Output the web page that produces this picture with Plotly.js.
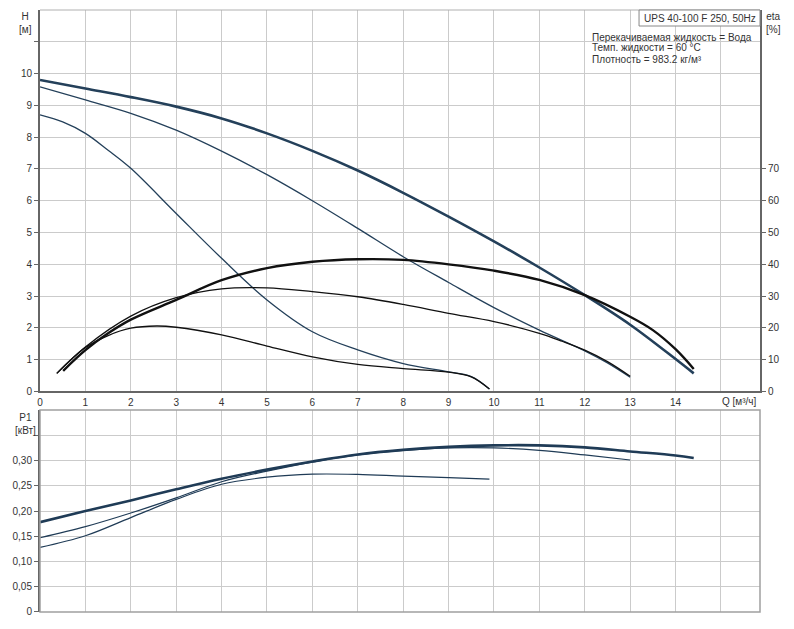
<!DOCTYPE html>
<html>
<head>
<meta charset="utf-8">
<script src="https://cdn.plot.ly/plotly-3.0.1.min.js"></script>
<style>html,body{margin:0;padding:0;background:#fff;}#chart{width:794px;height:629px;}</style>
</head>
<body>
<div id="chart"></div>
<script>
// ---- Data ----
const qH1 = [0,1,2,3,4,5,6,7,8,9,10,11,12,13,14,14.4];
const H1  = [9.8,9.53,9.26,8.96,8.59,8.12,7.57,6.95,6.25,5.5,4.72,3.9,3.03,2.1,1.02,0.57];
const qH2 = [0,1,2,3,4,5,6,7,8,9,10,11,12,12.5,13];
const H2  = [9.58,9.17,8.75,8.22,7.56,6.82,6.0,5.13,4.24,3.43,2.64,1.93,1.28,0.9,0.45];
const qH3 = [0,0.5,1,1.5,2,3,4,5,6,7,8,9,9.5,9.9];
const H3  = [8.7,8.48,8.12,7.59,7.02,5.6,4.19,2.88,1.88,1.31,0.88,0.62,0.47,0.08];

const qE1 = [0.51,1,1.5,2,3,4,5,6,7,8,9,10,11,12,13,13.5,14,14.4];
const E1  = [6.5,13.0,18.3,22.6,28.8,35.0,38.8,40.8,41.6,41.4,40.0,38.0,35.1,30.3,23.5,19.3,13.3,7.1];
const qE2 = [0.37,1,2,3,4,5,6,7,8,9,10,11,11.5,12,12.5,13];
const E2  = [5.7,14.0,23.7,29.5,32.3,32.6,31.4,29.8,27.4,24.6,22.0,18.3,15.8,13.0,9.4,4.8];
const qE3 = [0.37,1,1.5,2,2.57,3,4,5,6,7,8,9,9.5,9.9];
const E3  = [5.7,13.8,17.6,19.9,20.6,20.2,17.8,14.3,10.9,8.5,7.2,6.1,4.6,0.8];

const qP1 = [0,1,2,3,4,5,6,7,8,9,10,11,12,13,14,14.4];
const P1  = [0.178,0.200,0.221,0.243,0.264,0.282,0.298,0.312,0.321,0.327,0.330,0.330,0.326,0.318,0.310,0.305];
const qP2 = [0,1,2,3,4,5,6,7,8,9,10,11,12,13];
const P2  = [0.147,0.169,0.196,0.226,0.258,0.279,0.297,0.311,0.320,0.325,0.325,0.320,0.311,0.301];
const qP3 = [0,1,2,3,4,5,6,7,8,9,9.9];
const P3  = [0.128,0.151,0.187,0.223,0.253,0.267,0.273,0.2725,0.269,0.266,0.263];

const qTicks = [0,1,2,3,4,5,6,7,8,9,10,11,12,13,14,15];
const qTickText = ['0','1','2','3','4','5','6','7','8','9','10','11','12','13','14',''];
const hTicks = [0,1,2,3,4,5,6,7,8,9,10,11];
const hTickText = ['0','1','2','3','4','5','6','7','8','9','10',''];
const etaTicks = [0,10,20,30,40,50,60,70];
const pTicks = [0,0.05,0.10,0.15,0.20,0.25,0.30,0.35];
const pTickText = ['0','0,05','0,10','0,15','0,20','0,25','0,30',''];

// ---- Styles ----
const cH = '#24405a', cE = '#111111', cP = '#1f3b56';
function tr(x, y, color, width, xa, ya) {
  return {x: x, y: y, type: 'scatter', mode: 'lines', xaxis: xa, yaxis: ya,
    line: {color: color, width: width, shape: 'spline', smoothing: 1},
    hoverinfo: 'skip', showlegend: false};
}
const data = [
  tr(qH2, H2, cH, 1.3, 'x', 'y'),
  tr(qH3, H3, cH, 1.3, 'x', 'y'),
  tr(qH1, H1, cH, 2.6, 'x', 'y'),
  tr(qE2, E2, cE, 1.3, 'x', 'y3'),
  tr(qE3, E3, cE, 1.3, 'x', 'y3'),
  tr(qE1, E1, cE, 2.4, 'x', 'y3'),
  tr(qP2, P2, cP, 1.2, 'x2', 'y2'),
  tr(qP3, P3, cP, 1.2, 'x2', 'y2'),
  tr(qP1, P1, cP, 2.6, 'x2', 'y2')
];

const font = {family: 'Liberation Sans, Arial, sans-serif', size: 10, color: '#333'};
const grid = '#cbcbcb';
const axLine = '#666';

const layout = {
  width: 794, height: 629,
  margin: {l: 40, r: 34, t: 10, b: 17, pad: 0},
  paper_bgcolor: '#fff', plot_bgcolor: '#fff',
  font: font, showlegend: false,
  xaxis: {domain: [0, 1], anchor: 'y', range: [0, 15.86], tickmode: 'array',
    tickvals: qTicks, ticktext: qTickText, showgrid: true, gridcolor: grid, gridwidth: 1,
    zeroline: false, showline: true, linecolor: axLine, linewidth: 2, ticks: '', ticklabelstandoff: 1,
    tickfont: font},
  yaxis: {domain: [0.3663, 1], anchor: 'x', range: [0, 12], tickmode: 'array',
    tickvals: hTicks, ticktext: hTickText, showgrid: true, gridcolor: grid, gridwidth: 1,
    zeroline: false, showline: true, linecolor: axLine, linewidth: 2,
    ticks: 'outside', ticklen: 4, tickcolor: axLine, tickfont: font},
  yaxis3: {overlaying: 'y', anchor: 'x', side: 'right', range: [0, 120], tickmode: 'array',
    tickvals: etaTicks, showgrid: false, zeroline: false, showline: true, linecolor: axLine,
    linewidth: 2, ticks: 'outside', ticklen: 4, tickcolor: axLine, tickfont: font},
  xaxis2: {domain: [0, 1], anchor: 'y2', range: [0, 15.86], tickmode: 'array',
    tickvals: qTicks, showticklabels: false, showgrid: true, gridcolor: grid, gridwidth: 1,
    zeroline: false, showline: false, ticks: ''},
  yaxis2: {domain: [0, 0.3355], anchor: 'x2', range: [0, 0.40], tickmode: 'array',
    tickvals: pTicks, ticktext: pTickText, showgrid: true, gridcolor: grid, gridwidth: 1,
    zeroline: false, showline: true, linecolor: axLine, linewidth: 2,
    ticks: 'outside', ticklen: 4, tickcolor: axLine, tickfont: font},
  shapes: [
    {type: 'line', xref: 'x domain', yref: 'y domain', x0: 0, x1: 1, y0: 1, y1: 1,
      line: {color: '#b0b0b0', width: 1}},
    {type: 'rect', xref: 'x2 domain', yref: 'y2 domain', x0: 0, x1: 1, y0: 0, y1: 1,
      line: {color: '#a0a0a0', width: 1.5}},
    {type: 'rect', xref: 'paper', yref: 'paper', x0: 0.832, x1: 1, y0: 0.9734, y1: 1,
      line: {color: '#888', width: 1}, fillcolor: '#fff'}
  ],
  annotations: [
    {text: 'UPS 40-100 F 250, 50Hz', xref: 'paper', yref: 'paper', x: 0.916, y: 0.9867,
      xanchor: 'center', yanchor: 'middle', showarrow: false, font: font},
    {text: 'Перекачиваемая жидкость = Вода', xref: 'paper', yref: 'paper', x: 0.764, y: 0.955,
      xanchor: 'left', yanchor: 'middle', showarrow: false, font: font},
    {text: 'Темп. жидкости = 60 °C', xref: 'paper', yref: 'paper', x: 0.764, y: 0.937,
      xanchor: 'left', yanchor: 'middle', showarrow: false, font: font},
    {text: 'Плотность = 983.2 кг/м³', xref: 'paper', yref: 'paper', x: 0.764, y: 0.9186,
      xanchor: 'left', yanchor: 'middle', showarrow: false, font: font},
    {text: 'H<br>[м]', xref: 'paper', yref: 'paper', x: -0.0195, y: 0.979,
      xanchor: 'center', yanchor: 'middle', showarrow: false, font: font},
    {text: 'eta<br>[%]', xref: 'paper', yref: 'paper', x: 1.0185, y: 0.979,
      xanchor: 'center', yanchor: 'middle', showarrow: false, font: font},
    {text: 'P1<br>[кВт]', xref: 'paper', yref: 'paper', x: -0.0195, y: 0.3125,
      xanchor: 'center', yanchor: 'middle', showarrow: false, font: font},
    {text: 'Q [м³/ч]', xref: 'paper', yref: 'paper', x: 0.972, y: 0.349,
      xanchor: 'center', yanchor: 'middle', showarrow: false, font: font}
  ]
};

Plotly.newPlot('chart', data, layout, {staticPlot: true, displayModeBar: false});
</script>
</body>
</html>
